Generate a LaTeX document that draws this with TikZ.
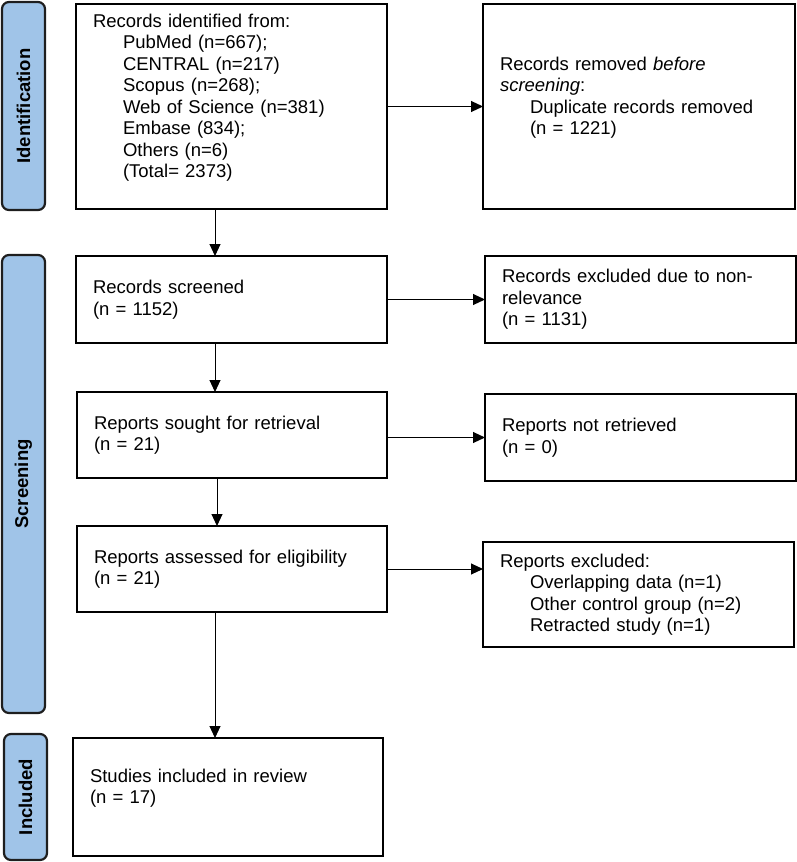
\documentclass[tikz,border=0pt]{standalone}
\usepackage{fontspec}
\setmainfont{Liberation Sans}
\usetikzlibrary{arrows.meta}
\definecolor{barblue}{RGB}{160,196,232}
\definecolor{barline}{RGB}{30,30,30}
\newcommand{\ind}{\hspace*{30pt}}
\begin{document}
\begin{tikzpicture}[x=1pt,y=-1pt,
  every node/.style={font=\fontsize{18.5}{21.5}\selectfont},
  box/.style={draw, line width=1.8pt, rectangle, align=left, inner xsep=17pt, inner ysep=0pt, anchor=north west, outer sep=0pt},
  bar/.style={draw=barline, fill=barblue, line width=2.2pt, rounded corners=7pt, rectangle, rotate=90, inner sep=0pt, minimum height=43pt, font=\fontsize{18.5}{21.5}\selectfont\bfseries},
  arr/.style={line width=1pt, -{Triangle[length=12pt,width=11pt]}}
]
\useasboundingbox (0,0) rectangle (797,862);

% phase bars
\node[bar, minimum width=208pt] (pid) at (23.5,106) {Identification};
\node[bar, minimum width=458pt] (pscr) at (23.5,484) {Screening};
\node[bar, minimum width=126pt] (pinc) at (25.5,797) {Included};

% boxes
\node[box, text width=277pt, minimum width=311pt, minimum height=205pt] (b1) at (76,4)
 {Records identified from:\\
  \ind PubMed (n=667);\\
  \ind CENTRAL (n=217)\\
  \ind Scopus (n=268);\\
  \ind Web of Science (n=381)\\
  \ind Embase (834);\\
  \ind Others (n=6)\\
  \ind (Total= 2373)\\ ~};
\node[box, text width=278pt, minimum width=312pt, minimum height=205pt] (rem) at (483,4)
 {Records removed \textit{before}\\
  \textit{screening}:\\
  \ind Duplicate records removed\\
  \ind (n = 1221)\\ ~};
\node[box, text width=277pt, minimum width=311pt, minimum height=87pt] (scr) at (76,256)
 {Records screened\\(n = 1152)};
\node[box, text width=277pt, minimum width=311pt, minimum height=87pt] (exc) at (485,256)
 {Records excluded due to non-\\relevance\\(n = 1131)};
\node[box, text width=276pt, minimum width=310pt, minimum height=86pt] (sou) at (77,392)
 {Reports sought for retrieval\\(n = 21)};
\node[box, text width=277pt, minimum width=311pt, minimum height=87pt] (nr) at (485,394)
 {Reports not retrieved\\(n = 0)};
\node[box, text width=276pt, minimum width=310pt, minimum height=86pt] (ass) at (77,526)
 {Reports assessed for eligibility\\(n = 21)};
\node[box, text width=277pt, minimum width=311pt, minimum height=105pt] (rex) at (483,542)
 {Reports excluded:\\
  \ind Overlapping data (n=1)\\
  \ind Other control group (n=2)\\
  \ind Retracted study (n=1)};
\node[box, text width=276pt, minimum width=310pt, minimum height=118pt] (inc) at (73,738)
 {Studies included in review\\(n = 17)\\ ~};

% connectors
\coordinate (vx) at (215,0);
\coordinate (vy) at (217,0);
\draw[arr] (b1.south -| vx) -- (scr.north -| vx);
\draw[arr] (scr.south -| vx) -- (sou.north -| vx);
\draw[arr] (sou.south -| vy) -- (ass.north -| vy);
\draw[arr] (ass.south -| vx) -- (inc.north -| vx);
\draw[arr] (b1.east) -- (rem.west);
\draw[arr] (scr.east) -- (exc.west);
\draw[arr] (nr.west -| sou.east) -- (nr.west);
\draw[arr] (ass.east) -- (ass.east -| rex.west);
\end{tikzpicture}
\end{document}
